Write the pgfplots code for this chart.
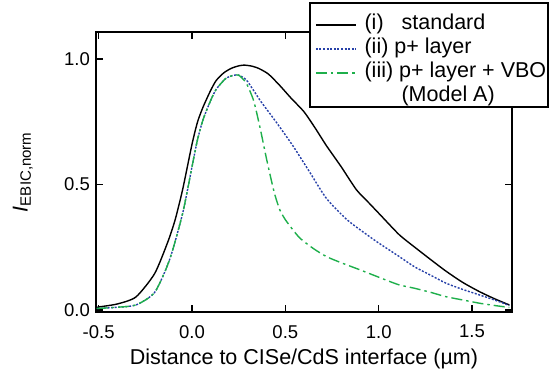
\documentclass[border=0pt]{standalone}
\usepackage{pgfplots}
\pgfplotsset{compat=1.18}
\usepackage{fontspec}
\setmainfont{Liberation Sans}
\definecolor{cblue}{RGB}{38,64,168}
\definecolor{cgreen}{RGB}{30,175,75}
\newcommand{\lf}{\fontsize{21.5bp}{24bp}\selectfont}
\begin{document}
\begin{tikzpicture}
\useasboundingbox (-96bp,-69bp) rectangle (454bp,312bp);
\begin{axis}[
  scale only axis, width=416bp, height=280bp,
  at={(0,0)}, anchor=south west,
  xmin=-0.514, xmax=1.714, ymin=-0.008, ymax=1.108,
  clip=false,
  axis line style={line width=1.2bp},
  tick style={line width=1.2bp, black},
  major tick length=7bp,
  tick align=inside,
  xtick={-0.5,0,0.5,1,1.5},
  ytick={0,0.5,1},
  /pgf/number format/assume math mode=true,
  /pgf/number format/fixed, /pgf/number format/fixed zerofill,
  /pgf/number format/precision=1,
  tick label style={font=\fontsize{18.5bp}{20bp}\selectfont},
  xticklabel style={inner sep=0pt, yshift=-13bp},
  yticklabel style={inner sep=0pt, xshift=-6bp},
  xlabel={Distance to CISe/CdS interface (µm)},
  every axis x label/.style={at={(rel axis cs:0.5,0)}, anchor=north, yshift=-37bp, inner sep=0pt, font=\lf},
  ylabel={\textit{I}\textsubscript{EBIC,norm}},
  every axis y label/.style={at={(axis description cs:-0.1514,0.5)}, rotate=90, anchor=south, inner sep=0pt, font=\lf},
  legend cell align=left,
  legend style={at={(rel axis cs:0.5264,1.0618)}, anchor=north west, draw=none, fill=none,
    inner sep=0pt, row sep=4bp,
    nodes={inner sep=0pt, text height=15bp, text depth=5bp, font=\lf},
    font=\lf},
  legend image code/.code={\draw[#1] (0bp,0bp) -- (40bp,0bp); \path (48bp,0bp);},
]
\draw[line width=1.2bp, fill=white] (rel axis cs:0.5144,0.7321) rectangle (rel axis cs:1.0865,1.1036);
\addplot[black, line width=1.4bp, smooth, tension=0.4] coordinates {
(-0.51,0.010) (-0.5,0.012) (-0.4,0.024) (-0.3,0.052) (-0.2,0.145) (-0.13,0.27) (-0.09,0.36) (-0.05,0.48) (0.0,0.66) (0.03,0.75) (0.06,0.81) (0.1,0.875) (0.13,0.915) (0.17,0.945) (0.21,0.963) (0.25,0.973) (0.28,0.976) (0.32,0.972) (0.36,0.962) (0.41,0.94) (0.47,0.895) (0.53,0.845) (0.6,0.79) (0.66,0.725) (0.72,0.655) (0.8,0.57) (0.88,0.48) (0.95,0.425) (1.01,0.378) (1.11,0.30) (1.19,0.252) (1.28,0.20) (1.36,0.155) (1.45,0.11) (1.54,0.073) (1.62,0.045) (1.70,0.02)
};
\addlegendentry{\lf (i)\hspace{18bp}standard}
\addplot[cblue, line width=1.4bp, dash pattern=on 2bp off 1.6bp, smooth, tension=0.4] coordinates {
(-0.51,0.006) (-0.4,0.011) (-0.3,0.02) (-0.2,0.07) (-0.12,0.2) (-0.05,0.385) (0.0,0.57) (0.03,0.68) (0.06,0.76) (0.1,0.835) (0.13,0.88) (0.18,0.922) (0.22,0.935) (0.25,0.936) (0.29,0.918) (0.33,0.875) (0.37,0.83) (0.45,0.75) (0.54,0.655) (0.63,0.55) (0.72,0.445) (0.83,0.36) (0.95,0.293) (1.01,0.262) (1.11,0.213) (1.19,0.173) (1.28,0.138) (1.36,0.107) (1.45,0.082) (1.54,0.06) (1.62,0.04) (1.70,0.018)
};
\addlegendentry{\lf (ii) p+ layer}
\addplot[cgreen, line width=1.4bp, dash pattern=on 11bp off 4bp on 2.5bp off 4bp, smooth, tension=0.4] coordinates {
(-0.51,0.006) (-0.4,0.011) (-0.3,0.02) (-0.2,0.07) (-0.12,0.2) (-0.05,0.385) (0.0,0.57) (0.03,0.68) (0.06,0.76) (0.1,0.835) (0.13,0.88) (0.18,0.922) (0.22,0.935) (0.25,0.936) (0.29,0.905) (0.33,0.835) (0.365,0.725) (0.40,0.60) (0.44,0.47) (0.47,0.40) (0.50,0.36) (0.54,0.32) (0.58,0.285) (0.65,0.245) (0.72,0.213) (0.8,0.188) (0.9,0.16) (1.03,0.122) (1.11,0.1) (1.19,0.087) (1.28,0.07) (1.36,0.053) (1.45,0.04) (1.54,0.027) (1.62,0.018) (1.70,0.01)
};
\addlegendentry{\lf (iii) p+ layer + VBO}
\addlegendimage{empty legend}
\addlegendentry{\lf\hspace*{37bp}(Model A)}
\end{axis}
\end{tikzpicture}
\end{document}
